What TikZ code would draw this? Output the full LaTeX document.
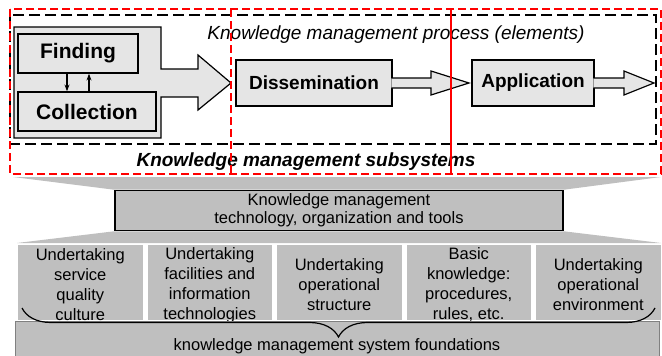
\documentclass[tikz,border=0pt]{standalone}
\usepackage{fontspec}
\setmainfont{Liberation Sans}
\usetikzlibrary{positioning,arrows.meta,decorations.pathreplacing}
\definecolor{lightfill}{rgb}{0.9, 0.9, 0.9}
\definecolor{midfill}{rgb}{0.75, 0.75, 0.75}
\pgfdeclarelayer{back}
\pgfsetlayers{back, main}
\tikzset{
  pbox/.style={draw, fill=lightfill, line width=1.2pt, inner sep=0pt, minimum height=39pt},
  pbig/.style={pbox, font=\fontsize{21}{24}\selectfont\bfseries},
  pmid/.style={pbox, minimum height=46pt, font=\fontsize{19}{22}\selectfont\bfseries},
  pshape/.style={draw, fill=lightfill, line width=1.2pt, line join=miter},
  fc/.style={line width=1.2pt, -{Stealth[length=7pt, width=5pt]}},
  blackdash/.style={draw, line width=1.8pt, dash pattern=on 11pt off 5pt},
  reddash/.style={draw=red, line width=1.5pt, dash pattern=on 8pt off 4pt},
  tbox/.style={draw, fill=midfill, line width=1.5pt, minimum width=448pt, minimum height=39pt, align=center, font=\fontsize{16.5}{18}\selectfont},
  pil/.style={fill=midfill, minimum width=124.5pt, minimum height=75pt, inner sep=0pt},
  piltxt/.style={align=center, font=\fontsize{16.5}{20}\selectfont},
  fbox/.style={draw=gray, fill=midfill, line width=1.2pt, minimum width=644pt, minimum height=40pt},
  ftxt/.style={font=\fontsize{16.5}{20}\selectfont},
  brace/.style={decorate, decoration={brace, mirror, amplitude=29pt}, line width=1.2pt}
}
\newcommand{\psep}{129.5}

\begin{document}
\begin{tikzpicture}[x=1pt, y=-1pt]
\useasboundingbox (0,0) rectangle (662,356);

% process frame
\draw[blackdash] (10,15) rectangle (656,144);

% finding and collection
\draw[pshape] (14,27) -- (161,27) -- (161,69) -- (198,69) -- (198,55) -- (231,83) -- (198,110) -- (198,97) -- (161,97) -- (161,138) -- (14,138) -- cycle;
\node[pbig, minimum width=120pt] (find) at (78,53.5) {Finding};
\node[pbig, minimum width=138pt] (coll) at (87,111.5) {Collection};
\draw[fc] ([xshift=-11pt]find.south) -- ([xshift=-11pt]find.south |- coll.north);
\draw[fc] ([xshift=11pt]find.south |- coll.north) -- ([xshift=11pt]find.south);

% dissemination and application
\node[pmid, minimum width=156pt] (diss) at (314,83) {Dissemination};
\draw[pshape] (391.4,78) -- (431,78) -- (431,71) -- (469,83) -- (431,95) -- (431,88) -- (391.4,88);
\node[pmid, minimum width=122pt] (app) at (533,83) {Application};
\draw[pshape] (593.4,78) -- (624,78) -- (624,71) -- (654,83) -- (624,95) -- (624,88) -- (593.4,88);

% labels
\node[font=\fontsize{19}{22}\selectfont\itshape] (proctitle) at (396,35) {Knowledge management process (elements)};
\node[font=\fontsize{19}{22}\selectfont\bfseries\itshape] (subtitle) at (306,162) {Knowledge management subsystems};

% subsystem frames
\draw[reddash] (10,9) rectangle (661,174);
\draw[reddash] (231,9) -- (231,174);
\draw[draw=red, line width=1.4pt] (451,9) -- (451,174);

% technology
\node[tbox] (tech) at (339,210.5) {Knowledge management\\technology, organization and tools};
\begin{pgfonlayer}{back}
\fill[midfill] (13,177) -- (661,177) -- (tech.north east) -- (tech.north west) -- cycle;
\fill[midfill] (tech.south west) -- (tech.south east) -- (661,243) -- (17,243) -- cycle;
\end{pgfonlayer}

% pillars
\node[pil] (p1) at (80.25+0*\psep, 282.5) {};
\node[pil] (p2) at (80.25+1*\psep, 282.5) {};
\node[pil] (p3) at (80.25+2*\psep, 282.5) {};
\node[pil] (p4) at (80.25+3*\psep, 282.5) {};
\node[pil] (p5) at (80.25+4*\psep, 282.5) {};
\node[piltxt] (t1) at ([yshift=-2.5pt]p1) {Undertaking\\service\\quality\\culture};
\node[piltxt] (t2) at ([yshift=-2.5pt]p2) {Undertaking\\facilities and\\information\\technologies};
\node[piltxt] (t3) at ([yshift=-2.5pt]p3) {Undertaking\\operational\\structure};
\node[piltxt] (t4) at ([yshift=-2.5pt]p4) {Basic\\knowledge:\\procedures,\\rules, etc.};
\node[piltxt] (t5) at ([yshift=-2.5pt]p5) {Undertaking\\operational\\environment};

% foundations
\node[fbox, anchor=north west] (fnd) at (15,321) {};
\node[ftxt] (fndtxt) at (337,346) {knowledge management system foundations};
\coordinate (bl) at (22,308);
\coordinate (br) at (655,308);
\draw[brace] (bl) -- (br);
\end{tikzpicture}
\end{document}
